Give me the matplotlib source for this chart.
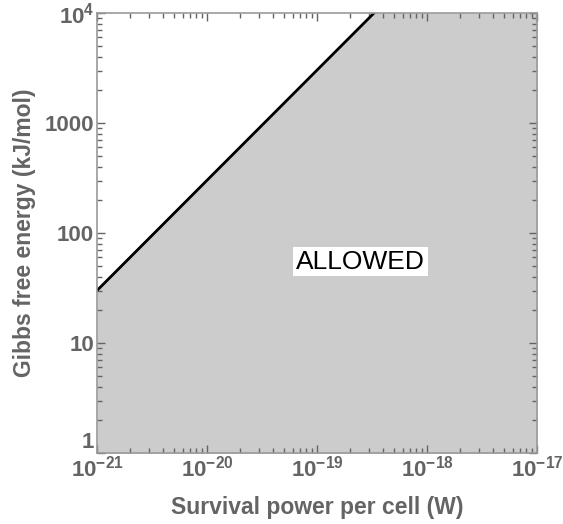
import matplotlib
matplotlib.use('Agg')
import matplotlib.pyplot as plt
from matplotlib.ticker import LogLocator, FixedLocator, FixedFormatter, NullFormatter

# boundary line: Gibbs free energy vs survival power per cell
power = [1e-21, 3.3e-19]
energy = [30, 1e4]

x_ticks = [1e-21, 1e-20, 1e-19, 1e-18, 1e-17]
x_labels = [r'$\mathbf{10^{-21}}$', r'$\mathbf{10^{-20}}$', r'$\mathbf{10^{-19}}$',
            r'$\mathbf{10^{-18}}$', r'$\mathbf{10^{-17}}$']
y_ticks = [1, 10, 100, 1000, 1e4]
y_labels = ['1', '10', '100', '1000', r'$\mathbf{10^{4}}$']

grey = '#646464'
plt.rcParams['font.family'] = ['Liberation Sans', 'DejaVu Sans']
plt.rcParams['mathtext.fontset'] = 'custom'
plt.rcParams['mathtext.bf'] = 'Liberation Sans:bold'
plt.rcParams['mathtext.rm'] = 'Liberation Sans'

fig = plt.figure(figsize=(5.63, 5.24), dpi=100)
ax = fig.add_axes([97 / 563, 1 - 453 / 524, 440 / 563, 440 / 524])

ax.set_xscale('log')
ax.set_yscale('log')
ax.set_xlim(1e-21, 1e-17)
ax.set_ylim(1, 1e4)

fill_x = power + [1e-17]
fill_y = energy + [energy[-1]]
ax.fill_between(fill_x, fill_y, 1, color='#cccccc', linewidth=0)
ax.plot(power, energy, color='black', linewidth=2)

ax.text(2.5e-19, 55, 'ALLOWED', fontsize=19, color='black', ha='center', va='center',
        bbox=dict(facecolor='white', edgecolor='none', pad=2))

ax.xaxis.set_major_locator(FixedLocator(x_ticks))
ax.xaxis.set_major_formatter(FixedFormatter(x_labels))
ax.yaxis.set_major_locator(FixedLocator(y_ticks))
ax.yaxis.set_major_formatter(FixedFormatter(y_labels))
ax.xaxis.set_minor_locator(LogLocator(base=10, subs=range(2, 10)))
ax.yaxis.set_minor_locator(LogLocator(base=10, subs=range(2, 10)))
ax.xaxis.set_minor_formatter(NullFormatter())
ax.yaxis.set_minor_formatter(NullFormatter())

ax.tick_params(which='both', direction='in', top=True, right=True, color=grey,
               labelcolor=grey, width=1)
ax.tick_params(which='major', length=6, labelsize=16, pad=2)
ax.tick_params(which='minor', length=3.5)
for lbl in ax.get_xticklabels() + ax.get_yticklabels():
    lbl.set_fontweight('bold')
# lowest y label sits on the axis, above the x labels
ax.yaxis.get_major_ticks()[0].label1.set_verticalalignment('bottom')
for s in ax.spines.values():
    s.set_color('#999999')
    s.set_linewidth(1.2)

ax.set_xlabel('Survival power per cell (W)', fontsize=16.5, fontweight='bold', color=grey, labelpad=10)
ax.set_ylabel('Gibbs free energy (kJ/mol)', fontsize=16.5, fontweight='bold', color=grey, labelpad=6)

fig.savefig('out.png', dpi=100)
